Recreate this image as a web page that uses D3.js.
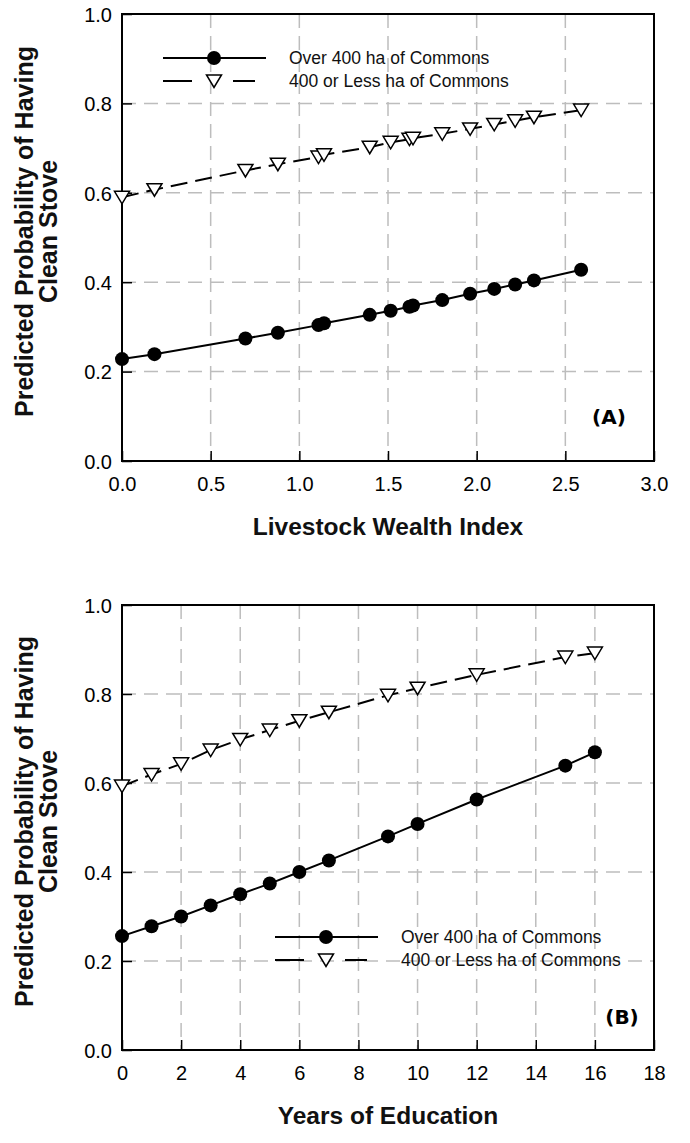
<!DOCTYPE html>
<html>
<head>
<meta charset="utf-8">
<script src="https://cdn.jsdelivr.net/npm/d3@7"></script>
<style>
  body { margin: 0; background: #fff; }
  text { font-family: Arial, "Liberation Sans", sans-serif; }
</style>
</head>
<body>
<svg id="chart" width="690" height="1143"></svg>
<script>
// panel A: livestock wealth index
const wealthX = [0, 0.183, 0.696, 0.879, 1.108, 1.139, 1.397, 1.515, 1.621, 1.641, 1.806, 1.963, 2.099, 2.217, 2.323, 2.589]
const wealthOver400 = [0.228, 0.239, 0.274, 0.287, 0.304, 0.308, 0.327, 0.336, 0.345, 0.348, 0.360, 0.374, 0.385, 0.395, 0.404, 0.428]
const wealthLess400 = [0.590, 0.607, 0.650, 0.664, 0.680, 0.685, 0.702, 0.713, 0.720, 0.722, 0.732, 0.743, 0.753, 0.761, 0.769, 0.785]
const wealthTicks = [0, 0.5, 1.0, 1.5, 2.0, 2.5, 3.0]

// panel B: years of education
const eduX = [0, 1, 2, 3, 4, 5, 6, 7, 9, 10, 12, 15, 16]
const eduOver400 = [0.256, 0.278, 0.300, 0.325, 0.350, 0.374, 0.400, 0.426, 0.480, 0.508, 0.563, 0.639, 0.669]
const eduLess400 = [0.593, 0.619, 0.643, 0.674, 0.698, 0.719, 0.740, 0.759, 0.797, 0.813, 0.843, 0.883, 0.892]
const eduTicks = [0, 2, 4, 6, 8, 10, 12, 14, 16, 18]

const yTicks = [0, 0.2, 0.4, 0.6, 0.8, 1.0]
const seriesNames = ["Over 400 ha of Commons", "400 or Less ha of Commons"]

const svg = d3.select("#chart")

function triPath() {
  // downward triangle centred on the point
  return "M-7.5,-6L7.5,-6L0,6.5Z"
}

function drawPanel(cfg) {
  const x = d3.scaleLinear().domain(cfg.xDomain).range([122, 654])
  const y = d3.scaleLinear().domain([0, 1]).range([cfg.bottom, cfg.top])
  const g = svg.append("g")

  // dashed grid
  g.append("g").selectAll("line").data(cfg.xTicks.slice(1, -1)).enter().append("line")
    .attr("x1", d => x(d)).attr("x2", d => x(d))
    .attr("y1", y(1)).attr("y2", y(0))
    .attr("stroke", "#bdbdbd").attr("stroke-width", 1.5).attr("stroke-dasharray", "14,8")
  g.append("g").selectAll("line").data(yTicks.slice(1, -1)).enter().append("line")
    .attr("y1", d => y(d)).attr("y2", d => y(d))
    .attr("x1", x.range()[0]).attr("x2", x.range()[1])
    .attr("stroke", "#bdbdbd").attr("stroke-width", 1.5).attr("stroke-dasharray", "14,8")

  // axes with inward ticks
  const xAxis = d3.axisBottom(x).tickValues(cfg.xTicks).tickFormat(cfg.xFormat).tickSizeInner(-10).tickSizeOuter(0).tickPadding(16)
  const yAxis = d3.axisLeft(y).tickValues(yTicks).tickFormat(d3.format(".1f")).tickSizeInner(-10).tickSizeOuter(0).tickPadding(10)
  const ax = g.append("g").attr("transform", `translate(0,${cfg.bottom})`).call(xAxis)
  const ay = g.append("g").attr("transform", `translate(122,0)`).call(yAxis)
  ;[ax, ay].forEach(a => {
    a.attr("font-size", 20).attr("font-family", null)
    a.select(".domain").remove()
    a.selectAll(".tick line").attr("stroke", "#000").attr("stroke-width", 1.5)
    a.selectAll(".tick text").attr("fill", "#000")
  })
  ax.selectAll(".tick text").attr("dy", "0.71em")
  ay.selectAll(".tick text").attr("dy", "0.36em")

  // frame
  g.append("rect").attr("x", 122).attr("y", cfg.top).attr("width", 532).attr("height", cfg.bottom - cfg.top)
    .attr("fill", "none").attr("stroke", "#000").attr("stroke-width", 2)

  // lines
  const pts1 = cfg.xs.map((v, i) => [v, cfg.over[i]])
  const pts2 = cfg.xs.map((v, i) => [v, cfg.less[i]])
  const line = d3.line().x(d => x(d[0])).y(d => y(d[1]))
  g.append("path").attr("d", line(pts2)).attr("fill", "none").attr("stroke", "#000")
    .attr("stroke-width", 2).attr("stroke-dasharray", "17,8")
  g.append("path").attr("d", line(pts1)).attr("fill", "none").attr("stroke", "#000").attr("stroke-width", 2)

  g.append("g").selectAll("path").data(pts2).enter().append("path")
    .attr("transform", d => `translate(${x(d[0])},${y(d[1])})`)
    .attr("d", triPath).attr("fill", "#fff").attr("stroke", "#000").attr("stroke-width", 1.5)
  g.append("g").selectAll("circle").data(pts1).enter().append("circle")
    .attr("cx", d => x(d[0])).attr("cy", d => y(d[1])).attr("r", 7).attr("fill", "#000")

  // legend
  const lg = g.append("g").attr("transform", `translate(${cfg.legend[0]},${cfg.legend[1]})`)
  lg.append("line").attr("x1", 0).attr("x2", 103).attr("y1", 0).attr("y2", 0).attr("stroke", "#000").attr("stroke-width", 2)
  lg.append("circle").attr("cx", 51).attr("cy", 0).attr("r", 7).attr("fill", "#000")
  lg.append("line").attr("x1", 0).attr("x2", 29).attr("y1", 23).attr("y2", 23).attr("stroke", "#000").attr("stroke-width", 2)
  lg.append("line").attr("x1", 70).attr("x2", 92).attr("y1", 23).attr("y2", 23).attr("stroke", "#000").attr("stroke-width", 2)
  lg.append("path").attr("transform", "translate(51,23)").attr("d", triPath)
    .attr("fill", "#fff").attr("stroke", "#000").attr("stroke-width", 1.5)
  lg.selectAll("text").data(seriesNames).enter().append("text")
    .attr("x", 126).attr("y", (d, i) => i * 23 + 6).attr("font-size", 17.5).attr("fill", "#111").text(d => d)

  // panel letter
  g.append("text").attr("x", cfg.letter[0]).attr("y", cfg.letter[1]).attr("text-anchor", "middle")
    .style("font-family", "'DejaVu Sans', sans-serif").attr("font-weight", "bold").attr("font-size", 20)
    .text(cfg.letterText)

  // axis titles
  g.append("text").attr("x", 388).attr("y", cfg.bottom + 74).attr("text-anchor", "middle")
    .attr("font-weight", "bold").attr("font-size", 24.5).attr("fill", "#111").text(cfg.xTitle)
  const yc = (cfg.top + cfg.bottom) / 2 - 6
  const yt = g.append("text").attr("transform", `translate(33,${yc}) rotate(-90)`).attr("text-anchor", "middle")
    .attr("font-weight", "bold").attr("font-size", 25).attr("fill", "#111")
  yt.append("tspan").attr("x", 0).attr("y", 0).text("Predicted Probability of Having")
  yt.append("tspan").attr("x", 0).attr("y", 24).text("Clean Stove")
}

drawPanel({
  xDomain: [0, 3], xTicks: wealthTicks, xFormat: d3.format(".1f"),
  xs: wealthX, over: wealthOver400, less: wealthLess400,
  top: 14, bottom: 461, legend: [163, 58], letter: [609, 424], letterText: "(A)",
  xTitle: "Livestock Wealth Index"
})
drawPanel({
  xDomain: [0, 18], xTicks: eduTicks, xFormat: d3.format("d"),
  xs: eduX, over: eduOver400, less: eduLess400,
  top: 605, bottom: 1050, legend: [275, 937], letter: [622, 1024], letterText: "(B)",
  xTitle: "Years of Education"
})
</script>
</body>
</html>
